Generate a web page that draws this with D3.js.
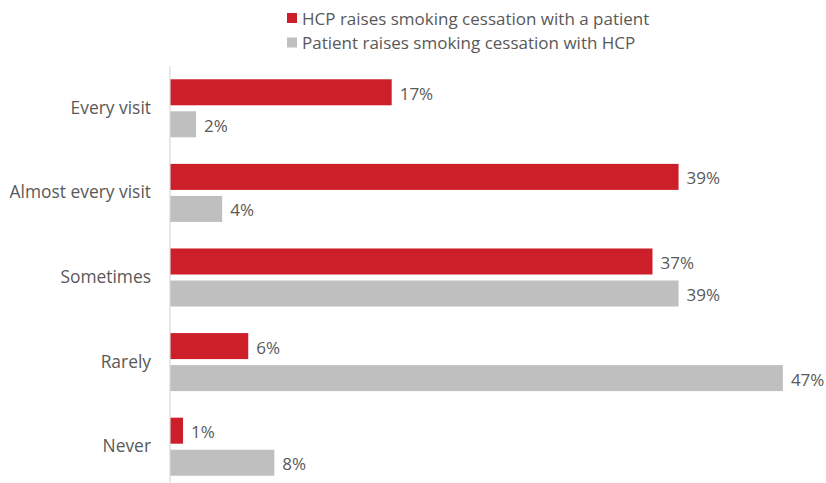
<!DOCTYPE html>
<html>
<head>
<meta charset="utf-8">
<script src="https://cdn.jsdelivr.net/npm/d3@7/dist/d3.min.js"></script>
<style>
  html, body { margin: 0; padding: 0; background: #ffffff; }
  svg { display: block; }
  text { font-family: "Open Sans", "Noto Sans", sans-serif; fill: #595959; }
</style>
</head>
<body>
<svg id="chart" width="826" height="483"></svg>
<script>
// Survey answers: how often smoking cessation is raised during a visit
const categories = ["Every visit", "Almost every visit", "Sometimes", "Rarely", "Never"];
const seriesNames = [
  "HCP raises smoking cessation with a patient",
  "Patient raises smoking cessation with HCP"
];
const hcpRaises = [17, 39, 37, 6, 1];
const patientRaises = [2, 4, 39, 47, 8];
const seriesColors = ["#cc1f29", "#bfbfbf"];

const seriesValues = [hcpRaises, patientRaises];
const rows = categories.map((c, i) => ({
  category: c,
  values: seriesNames.map((s, j) => ({ series: s, value: seriesValues[j][i], color: seriesColors[j] }))
}));

const svg = d3.select("#chart");

const x = d3.scaleLinear().domain([0, 50]).range([170, 822]);
const y = d3.scaleBand().domain(categories).range([66, 489]).paddingInner(0.314).paddingOuter(0.157);
const ySub = d3.scaleBand().domain(seriesNames).range([0, y.bandwidth()]).paddingInner(0.1875);

// Legend
const legend = svg.append("g").attr("class", "legend");
seriesNames.forEach((s, j) => {
  const g = legend.append("g").attr("transform", `translate(287, ${13 + j * 24.5})`);
  g.append("rect").attr("width", 10).attr("height", 10).attr("fill", seriesColors[j]);
  g.append("text").attr("x", 15).attr("y", 5).attr("dominant-baseline", "central")
    .attr("font-size", 17).text(s);
});

// Bars
const groups = svg.append("g").selectAll("g")
  .data(rows).join("g")
  .attr("transform", d => `translate(0, ${y(d.category)})`);

groups.selectAll("rect")
  .data(d => d.values).join("rect")
  .attr("x", x(0))
  .attr("y", d => ySub(d.series))
  .attr("width", d => x(d.value) - x(0))
  .attr("height", ySub.bandwidth())
  .attr("fill", d => d.color);

groups.selectAll("text.value")
  .data(d => d.values).join("text")
  .attr("class", "value")
  .attr("x", d => x(d.value) + 8)
  .attr("y", d => ySub(d.series) + ySub.bandwidth() / 2 + 1)
  .attr("dominant-baseline", "central")
  .attr("font-size", 17)
  .text(d => d.value + "%");

// Category axis
const yAxis = d3.axisLeft(y).tickSize(0).tickPadding(19);
const axisG = svg.append("g").attr("transform", `translate(${x(0)},0)`).call(yAxis);
axisG.select(".domain").attr("stroke", "#d9d9d9").attr("stroke-width", 1.2)
  .attr("d", `M0,66V489`);
axisG.selectAll(".tick text")
  .attr("font-size", 17.4)
  .attr("font-family", "'Open Sans', 'Noto Sans', sans-serif")
  .attr("fill", "#595959");
</script>
</body>
</html>
